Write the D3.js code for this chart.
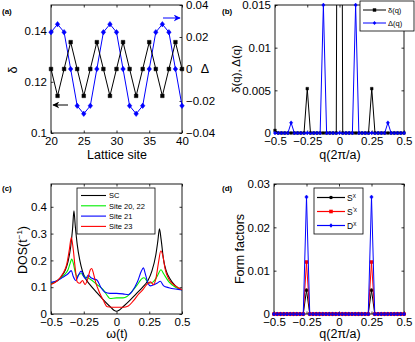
<!DOCTYPE html>
<html>
<head>
<meta charset="utf-8">
<script src="https://cdn.jsdelivr.net/npm/d3@7"></script>
<style>
body { margin: 0; background: #fff; }
text { font-family: "Liberation Sans", Arial, sans-serif; }
</style>
</head>
<body>
<div id="fig"></div>
<script>
// ---- data ----
// (a) real-space profiles
const sites = [20,21,22,23,24,25,26,27,28,29,30,31,32,33,34,35,36,37,38,39,40];
const deltaSite = [0.125,0.1145,0.125,0.1355,0.125,0.1145,0.125,0.1355,0.125,0.1145,0.125,0.1355,0.125,0.1145,0.125,0.1355,0.125,0.1145,0.125,0.1355,0.125];
const gapSite = [0.023,0.028,0.023,0,-0.023,-0.028,-0.023,0,0.023,0.028,0.023,0,-0.023,-0.028,-0.023,0,0.023,0.028,0.023,0,-0.023];

// (b),(d) momentum grid
const qGrid = [-0.5,-0.475,-0.45,-0.425,-0.4,-0.375,-0.35,-0.325,-0.3,-0.275,-0.25,-0.225,-0.2,-0.175,-0.15,-0.125,-0.1,-0.075,-0.05,-0.025,
  0,0.025,0.05,0.075,0.1,0.125,0.15,0.175,0.2,0.225,0.25,0.275,0.3,0.325,0.35,0.375,0.4,0.425,0.45,0.475,0.5];
const deltaQ = [0.0003,0,0,0,0,0,0,0,0,0,0.0052,0,0,0,0,0,0,0,0,0,0.125,0,0,0,0,0,0,0,0,0,0.0052,0,0,0,0,0,0,0,0,0,0];
const gapQ   = [0,0,0,0,0,0.0012,0,0,0,0,0,0,0,0,0,0.015,0,0,0,0,0,0,0,0,0,0.015,0,0,0,0,0,0,0,0,0,0.0012,0,0,0,0,0];
const formS  = [0,0,0,0,0,0,0,0,0,0,0.0055,0,0,0,0,0,0,0,0,0,0,0,0,0,0,0,0,0,0,0,0.0055,0,0,0,0,0,0,0,0,0,0];
const formSp = [0,0,0,0,0,0,0,0,0,0,0.012,0,0,0,0,0,0,0,0,0,0,0,0,0,0,0,0,0,0,0,0.012,0,0,0,0,0,0,0,0,0,0];
const formD  = [0,0,0,0,0,0,0,0,0,0,0.027,0,0,0,0,0,0,0,0,0,0,0,0,0,0,0,0,0,0,0,0.027,0,0,0,0,0,0,0,0,0,0];

// (c) density of states, [omega, DOS]
const dosSC = [[-0.5,0.112],[-0.45,0.125],[-0.42,0.14],[-0.39,0.165],[-0.37,0.195],[-0.35,0.25],[-0.335,0.32],[-0.325,0.385],[-0.315,0.33],
  [-0.3,0.26],[-0.28,0.2],[-0.26,0.16],[-0.24,0.135],[-0.2,0.108],[-0.15,0.08],[-0.1,0.053],[-0.05,0.028],[-0.02,0.014],[0,0.01],
  [0.02,0.014],[0.05,0.027],[0.1,0.05],[0.15,0.075],[0.2,0.1],[0.24,0.125],[0.27,0.16],[0.3,0.22],[0.315,0.27],[0.328,0.318],
  [0.34,0.28],[0.36,0.2],[0.38,0.16],[0.41,0.13],[0.45,0.105],[0.5,0.09]];
const dosSite2022 = [[-0.5,0.115],[-0.45,0.125],[-0.4,0.145],[-0.37,0.165],[-0.35,0.195],[-0.342,0.205],[-0.33,0.19],[-0.315,0.155],
  [-0.3,0.14],[-0.28,0.15],[-0.265,0.15],[-0.25,0.14],[-0.22,0.135],[-0.2,0.13],[-0.15,0.11],[-0.1,0.09],[-0.07,0.068],[-0.05,0.058],
  [0,0.06],[0.05,0.06],[0.08,0.065],[0.12,0.085],[0.16,0.11],[0.19,0.13],[0.21,0.135],[0.23,0.125],[0.25,0.115],[0.28,0.12],
  [0.31,0.14],[0.34,0.165],[0.36,0.15],[0.4,0.12],[0.45,0.1],[0.5,0.09]];
const dosSite21 = [[-0.5,0.118],[-0.45,0.125],[-0.4,0.14],[-0.37,0.15],[-0.345,0.162],[-0.33,0.14],[-0.31,0.125],[-0.29,0.145],
  [-0.27,0.16],[-0.25,0.14],[-0.235,0.132],[-0.215,0.145],[-0.195,0.135],[-0.17,0.13],[-0.15,0.127],[-0.12,0.1],[-0.09,0.082],
  [-0.05,0.077],[0,0.077],[0.05,0.075],[0.09,0.072],[0.12,0.085],[0.16,0.12],[0.19,0.16],[0.205,0.172],[0.22,0.15],[0.24,0.115],
  [0.26,0.105],[0.29,0.11],[0.31,0.115],[0.335,0.122],[0.36,0.105],[0.4,0.098],[0.45,0.093],[0.5,0.09]];
const dosSite23 = [[-0.5,0.11],[-0.45,0.125],[-0.41,0.15],[-0.38,0.185],[-0.36,0.24],[-0.345,0.285],[-0.33,0.24],[-0.315,0.17],
  [-0.3,0.12],[-0.28,0.115],[-0.26,0.125],[-0.24,0.11],[-0.22,0.13],[-0.2,0.165],[-0.19,0.17],[-0.175,0.15],[-0.16,0.12],
  [-0.13,0.08],[-0.1,0.05],[-0.07,0.027],[0,0.025],[0.05,0.025],[0.09,0.03],[0.13,0.05],[0.17,0.075],[0.2,0.09],[0.23,0.11],
  [0.26,0.12],[0.28,0.11],[0.3,0.13],[0.32,0.19],[0.338,0.235],[0.355,0.215],[0.37,0.17],[0.4,0.13],[0.45,0.105],[0.5,0.09]];
const dosNames = ["SC", "Site 20, 22", "Site 21", "Site 23"];
const dosColors = ["#000000", "#00ee00", "#0000ff", "#ff0000"];

// tick values
const siteTicks = [20,25,30,35,40];
const deltaTicks = [0.1,0.12,0.14];
const gapTicks = [-0.04,-0.02,0,0.02,0.04];
const qTicks = [-0.5,-0.25,0,0.25,0.5];
const dqTicks = [0,0.005,0.01,0.015];
const dosTicks = [0,0.1,0.2,0.3,0.4];
const formTicks = [0,0.01,0.02,0.03];

const W = 415, H = 342;
const svg = d3.select("#fig").append("svg").attr("width", W).attr("height", H);

const fmt = d => String(+d.toFixed(4)).replace("-", "\u2212");
let clipId = 0;

// one MATLAB style axes box with inward ticks on every side
function makeAxes(box, xd, yd, xt, yt, opts = {}) {
    const x = d3.scaleLinear().domain(xd).range([box.l, box.r]);
    const y = d3.scaleLinear().domain(yd).range([box.b, box.t]);
    const g = svg.append("g");

    const ax = (axis, tr, labels) => {
        const a = g.append("g").attr("transform", tr)
            .call(axis.tickSizeInner(-2.5).tickSizeOuter(0).tickPadding(4).tickFormat(labels ? fmt : ""));
        a.select(".domain").remove();
        a.selectAll("text").attr("font-size", 11.5).attr("fill", "#000").style("font-family", "Liberation Sans, Arial, sans-serif");
        a.selectAll("line").attr("stroke", "#000").attr("stroke-width", 0.8);
        return a;
    };
    ax(d3.axisBottom(x).tickValues(xt), `translate(0,${box.b})`, true);
    ax(d3.axisTop(x).tickValues(xt), `translate(0,${box.t})`, false);
    ax(d3.axisLeft(y).tickValues(yt), `translate(${box.l},0)`, true);
    if (!opts.noRight) ax(d3.axisRight(y).tickValues(yt), `translate(${box.r},0)`, false);

    g.append("rect").attr("x", box.l).attr("y", box.t)
        .attr("width", box.r - box.l).attr("height", box.b - box.t)
        .attr("fill", "none").attr("stroke", "#000").attr("stroke-width", 0.9);

    const id = "clip" + (clipId++);
    svg.append("clipPath").attr("id", id).append("rect")
        .attr("x", box.l - 3).attr("y", box.t - 3)
        .attr("width", box.r - box.l + 6).attr("height", box.b - box.t + 6);
    const id2 = "clipl" + (clipId++);
    svg.append("clipPath").attr("id", id2).append("rect")
        .attr("x", box.l).attr("y", box.t)
        .attr("width", box.r - box.l).attr("height", box.b - box.t);
    const plot = svg.append("g").attr("clip-path", `url(#${id})`);
    const lines = svg.append("g").attr("clip-path", `url(#${id2})`);
    return { x, y, g, plot, lines };
}

function series(ax, xs, ys, color, marker, size, yScale) {
    const ysc = yScale || ax.y;
    const pts = xs.map((v, i) => [v, ys[i]]);
    ax.lines.append("path").datum(pts)
        .attr("fill", "none").attr("stroke", color).attr("stroke-width", 1)
        .attr("d", d3.line().x(d => ax.x(d[0])).y(d => ysc(d[1])));
    ax.plot.selectAll(null).data(pts.filter(d => ysc(d[1]) >= ysc.range()[1] - 0.5)).enter()
        .append("path")
        .attr("transform", d => `translate(${ax.x(d[0])},${ysc(d[1])})`)
        .attr("d", markerPath(marker, size))
        .attr("fill", color).attr("stroke", color).attr("stroke-width", 0.5);
}

function markerPath(kind, s) {
    const h = s / 2;
    if (kind === "square") return `M${-h},${-h}H${h}V${h}H${-h}Z`;
    if (kind === "diamond") return `M0,${-h * 1.2}L${h},0L0,${h * 1.2}L${-h},0Z`;
    return d3.symbol(d3.symbolCircle, s * s * 0.8)();
}

function label(txt, x, y, opts = {}) {
    const t = svg.append("text").attr("x", x).attr("y", y)
        .attr("font-size", opts.size || 12.5).attr("text-anchor", opts.anchor || "middle")
        .attr("font-weight", opts.bold ? "bold" : null);
    if (opts.rotate) t.attr("transform", `rotate(-90,${x},${y})`);
    return t.text(txt);
}

// ---------- (a) ----------
const boxA = { l: 51, r: 182, t: 5, b: 133 };
const axA = makeAxes(boxA, [20, 40], [0.1, 0.15], siteTicks, deltaTicks, { noRight: true });
const yGap = d3.scaleLinear().domain([-0.04, 0.04]).range([boxA.b, boxA.t]);
{
    const a = axA.g.append("g").attr("transform", `translate(${boxA.r},0)`)
        .call(d3.axisRight(yGap).tickValues(gapTicks).tickSizeInner(-2.5).tickSizeOuter(0).tickPadding(4).tickFormat(fmt));
    a.select(".domain").remove();
    a.selectAll("text").attr("font-size", 11.5).attr("fill", "#000");
    a.selectAll("line").attr("stroke", "#000").attr("stroke-width", 0.8);
}
series(axA, sites, gapSite, "#0000ff", "diamond", 4.5, yGap);
series(axA, sites, deltaSite, "#000000", "square", 3.6);
// pointer arrows
svg.append("defs").html(
  '<marker id="hk" viewBox="0 0 10 10" refX="9" refY="5" markerWidth="7" markerHeight="7" orient="auto"><path d="M0,0L10,5L0,10L3,5Z" fill="#000"/></marker>' +
  '<marker id="hb" viewBox="0 0 10 10" refX="9" refY="5" markerWidth="7" markerHeight="7" orient="auto"><path d="M0,0L10,5L0,10L3,5Z" fill="#0000ff"/></marker>');
svg.append("line").attr("x1", 68).attr("y1", 105).attr("x2", 53).attr("y2", 105)
    .attr("stroke", "#000").attr("stroke-width", 1).attr("marker-end", "url(#hk)");
svg.append("line").attr("x1", 163).attr("y1", 18).attr("x2", 180).attr("y2", 18)
    .attr("stroke", "#0000ff").attr("stroke-width", 1).attr("marker-end", "url(#hb)");
label("(a)", 2, 14, { size: 8, anchor: "start", bold: true });
label("\u03b4", 17, 70, { rotate: true });
label("\u0394", 205, 73);
label("Lattice site", 117, 159);

// ---------- (b) ----------
const boxB = { l: 275, r: 404, t: 5, b: 133 };
const axB = makeAxes(boxB, [-0.5, 0.5], [0, 0.015], qTicks, dqTicks);
series(axB, qGrid, deltaQ, "#000000", "square", 2.6);
series(axB, qGrid, gapQ, "#0000ff", "diamond", 3.2);
label("(b)", 222, 14, { size: 8, anchor: "start", bold: true });
label("\u03b4(q), \u0394(q)", 240, 69, { rotate: true, size: 11.5 });
label("q(2\u03c0/a)", 340, 159);
{
    const lg = svg.append("g");
    lg.append("rect").attr("x", 360).attr("y", 1).attr("width", 54).attr("height", 30)
        .attr("fill", "#fff").attr("stroke", "#000").attr("stroke-width", 0.8);
    [["\u03b4(q)", "#000000", "square", 10], ["\u0394(q)", "#0000ff", "diamond", 23]].forEach(([t, c, m, yy]) => {
        lg.append("line").attr("x1", 363).attr("x2", 386).attr("y1", yy).attr("y2", yy).attr("stroke", c);
        lg.append("path").attr("transform", `translate(374.5,${yy})`).attr("d", markerPath(m, 3.4)).attr("fill", c);
        lg.append("text").attr("x", 388).attr("y", yy + 2.6).attr("font-size", 7.5).text(t);
    });
}

// ---------- (c) ----------
const boxC = { l: 51, r: 182, t: 184, b: 314 };
const axC = makeAxes(boxC, [-0.5, 0.5], [0, 0.485], qTicks, dosTicks);
[dosSC, dosSite2022, dosSite21, dosSite23].forEach((s, i) => {
    axC.lines.append("path").datum(s)
        .attr("fill", "none").attr("stroke", dosColors[i]).attr("stroke-width", 1.1)
        .attr("d", d3.line().curve(d3.curveMonotoneX).x(d => axC.x(d[0])).y(d => axC.y(d[1])));
});
label("(c)", 2, 191, { size: 8, anchor: "start", bold: true });
{
    const t = label("DOS(t", 27, 250, { rotate: true });
    t.append("tspan").attr("font-size", 8).attr("dy", -5).text("\u22121");
    t.append("tspan").attr("dy", 5).text(")");
}
label("\u03c9(t)", 117, 338);
{
    const lg = svg.append("g");
    lg.append("rect").attr("x", 77).attr("y", 188).attr("width", 78).attr("height", 46)
        .attr("fill", "#fff").attr("stroke", "#000").attr("stroke-width", 0.8);
    dosNames.forEach((n, i) => {
        const yy = 195.5 + i * 10.3;
        lg.append("line").attr("x1", 81).attr("x2", 106).attr("y1", yy).attr("y2", yy)
            .attr("stroke", dosColors[i]).attr("stroke-width", 1.1);
        lg.append("text").attr("x", 109).attr("y", yy + 2.7).attr("font-size", 7.5).text(n);
    });
}

// ---------- (d) ----------
const boxD = { l: 274, r: 404, t: 184, b: 314 };
const axD = makeAxes(boxD, [-0.5, 0.5], [0, 0.03], qTicks, formTicks);
series(axD, qGrid, formS, "#000000", "circle", 3.2);
series(axD, qGrid, formSp, "#ff0000", "square", 3);
series(axD, qGrid, formD, "#0000ff", "diamond", 3.4);
label("(d)", 222, 191, { size: 8, anchor: "start", bold: true });
label("Form factors", 244, 249, { rotate: true });
label("q(2\u03c0/a)", 340, 338);
{
    const lg = svg.append("g");
    lg.append("rect").attr("x", 314).attr("y", 188).attr("width", 49).attr("height", 46)
        .attr("fill", "#fff").attr("stroke", "#000").attr("stroke-width", 0.8);
    [["S", "", "#000000", "circle"], ["S", "'", "#ff0000", "square"], ["D", "", "#0000ff", "diamond"]].forEach(([b, p, c, m], i) => {
        const yy = 197.5 + i * 14;
        lg.append("line").attr("x1", 317).attr("x2", 345).attr("y1", yy).attr("y2", yy).attr("stroke", c).attr("stroke-width", 1.2);
        lg.append("path").attr("transform", `translate(331,${yy})`).attr("d", markerPath(m, 3.6)).attr("fill", c);
        const t = lg.append("text").attr("x", 347).attr("y", yy + 3).attr("font-size", 8.5).text(b);
        t.append("tspan").attr("font-size", 6).attr("dy", -3.5).text(p + "\u03c7");
    });
}
</script>
</body>
</html>
